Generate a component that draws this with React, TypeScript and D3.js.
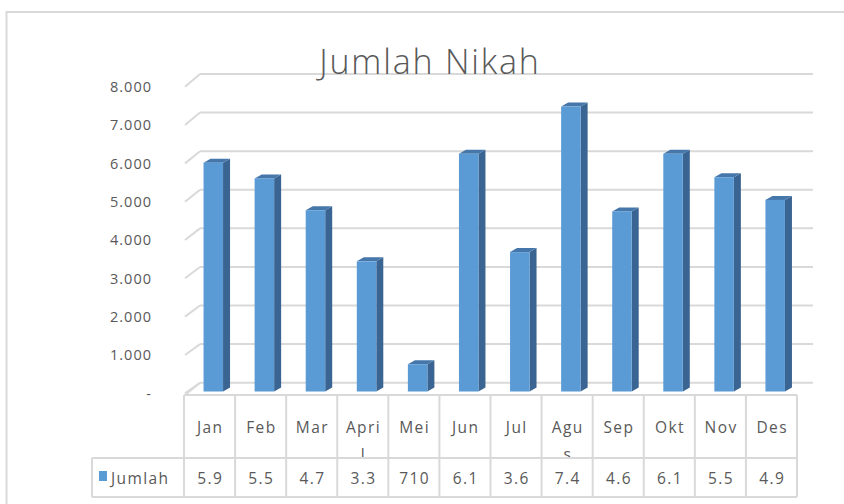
import React from "react";
import * as d3 from "d3";

const months = ["Jan", "Feb", "Mar", "April", "Mei", "Jun", "Jul", "Agus", "Sep", "Okt", "Nov", "Des"];
const jumlah = [5960, 5550, 4720, 3390, 710, 6190, 3630, 7420, 4690, 6190, 5580, 4990];
const yTicks = [0, 1000, 2000, 3000, 4000, 5000, 6000, 7000, 8000];
const seriesName = "Jumlah";
const title = "Jumlah Nikah";

const W = 844;
const H = 504;
const FONT = "'Open Sans', 'Noto Sans', sans-serif";
const TEXT = "#595959";
const GRID = "#D9D9D9";

const locale = d3.formatLocale({ decimal: ",", thousands: ".", grouping: [3], currency: ["", ""] });
const fmt = locale.format(",.0f");

function measure(s: string, size: number, spacing: number) {
  const c = document.createElement("canvas").getContext("2d");
  if (!c) return s.length * size * 0.6;
  c.font = `${size}px 'Open Sans'`;
  return c.measureText(s).width + spacing * s.length;
}

function wrap(s: string, maxW: number, size: number, spacing: number) {
  const lines: string[] = [];
  let cur = "";
  for (const ch of s) {
    if (cur && measure(cur + ch, size, spacing) > maxW) {
      lines.push(cur);
      cur = ch;
    } else cur += ch;
  }
  if (cur) lines.push(cur);
  return lines;
}

export default function App() {
  const x = d3.scaleBand<string>().domain(months).range([184, 797]).padding(0);
  const yFront = d3.scaleLinear().domain([0, 8000]).range([393.3, 86.7]);
  const yBack = d3.scaleLinear().domain([0, 8000]).range([382.7, 74]);
  const yBar = d3.scaleLinear().domain([0, 8000]).range([391.5, 391.5 - 307.2]);
  const backX0 = 200;
  const backX1 = 813;
  const tableTop = 395;
  const rowSep = 458;
  const tableBottom = 497;
  const legendX = 92;
  const barW = 19.5;
  const depthX = 7;
  const depthY = 4;

  return (
    <svg width={W} height={H} style={{ position: "absolute", left: 0, top: 0, background: "#fff" }} fontFamily={FONT}>
      <defs>
        {months.map((m, i) => (
          <clipPath id={`cell${i}`} key={m}>
            <rect x={x(m)!} y={tableTop + 1} width={x.bandwidth()} height={rowSep - tableTop - 2} />
          </clipPath>
        ))}
      </defs>
      <rect x={0} y={0} width={W} height={H} fill="#fff" />
      {/* outer chart border */}
      <rect x={6.5} y={12} width={W + 50} height={H + 50} fill="none" stroke={GRID} strokeWidth={2} />

      {/* gridlines: back wall + side wall */}
      {yTicks.map((t) => (
        <g key={t}>
          <line x1={backX0} x2={backX1} y1={yBack(t)} y2={yBack(t)} stroke={GRID} strokeWidth={2} />
          <line x1={185} x2={backX0} y1={yFront(t)} y2={yBack(t)} stroke={GRID} strokeWidth={2} />
        </g>
      ))}

      {/* title */}
      <text x={430} y={74} textAnchor="middle" fontSize={34} fontWeight={300} letterSpacing={1.8} fill={TEXT}>
        {title}
      </text>

      {/* y-axis labels */}
      {yTicks.map((t) => (
        <text key={t} x={152} y={yFront(t)} dy="0.36em" textAnchor="end" fontSize={14.5} letterSpacing={1} fill={TEXT}>
          {t === 0 ? "-" : fmt(t)}
        </text>
      ))}

      {/* bars */}
      {months.map((m, i) => {
        const v = jumlah[i];
        const cx = x(m)! + x.bandwidth() / 2;
        const x0 = cx - 6;
        const x1 = x0 + barW;
        const top = yBar(v);
        const bot = yBar(0);
        return (
          <g key={m}>
            <polygon
              points={`${x1},${top} ${x1 + depthX},${top - depthY} ${x1 + depthX},${bot - depthY} ${x1},${bot}`}
              fill="#3A6491"
            />
            <polygon
              points={`${x0},${top} ${x1},${top} ${x1 + depthX},${top - depthY} ${x0 + depthX},${top - depthY}`}
              fill="#4677AA"
            />
            <rect x={x0} y={top} width={barW} height={bot - top} fill="#5B9BD5" />
          </g>
        );
      })}

      {/* data table */}
      <line x1={184} x2={797} y1={tableTop} y2={tableTop} stroke={GRID} strokeWidth={2} />
      <line x1={185} x2={backX0} y1={tableTop} y2={yBack(0)} stroke={GRID} strokeWidth={2} />
      <line x1={legendX} x2={797} y1={rowSep} y2={rowSep} stroke={GRID} strokeWidth={2} />
      <line x1={legendX} x2={797} y1={tableBottom} y2={tableBottom} stroke={GRID} strokeWidth={2} />
      <line x1={legendX} x2={legendX} y1={rowSep} y2={tableBottom} stroke={GRID} strokeWidth={2} />
      {months.map((m) => (
        <line key={m} x1={x(m)!} x2={x(m)!} y1={tableTop} y2={tableBottom} stroke={GRID} strokeWidth={2} />
      ))}
      <line x1={797} x2={797} y1={tableTop} y2={tableBottom} stroke={GRID} strokeWidth={2} />

      {months.map((m, i) => {
        const cx = x(m)! + x.bandwidth() / 2;
        const lines = wrap(m, 39, 15.5, 1.4);
        return (
          <g key={m}>
            <text clipPath={`url(#cell${i})`} textAnchor="middle" fontSize={15.5} letterSpacing={1.4} fill={TEXT}>
              {lines.map((l, j) => (
                <tspan key={j} x={cx + 0.7} y={433 + j * 27}>
                  {l}
                </tspan>
              ))}
            </text>
            <text x={cx + 0.7} y={484} textAnchor="middle" fontSize={15.5} letterSpacing={1.4} fill={TEXT}>
              {fmt(jumlah[i]).slice(0, 3)}
            </text>
          </g>
        );
      })}

      {/* legend key */}
      <rect x={99} y={471} width={8} height={10} fill="#5B9BD5" />
      <text x={111} y={484} fontSize={15.5} letterSpacing={1.4} fill={TEXT}>
        {seriesName}
      </text>
    </svg>
  );
}
